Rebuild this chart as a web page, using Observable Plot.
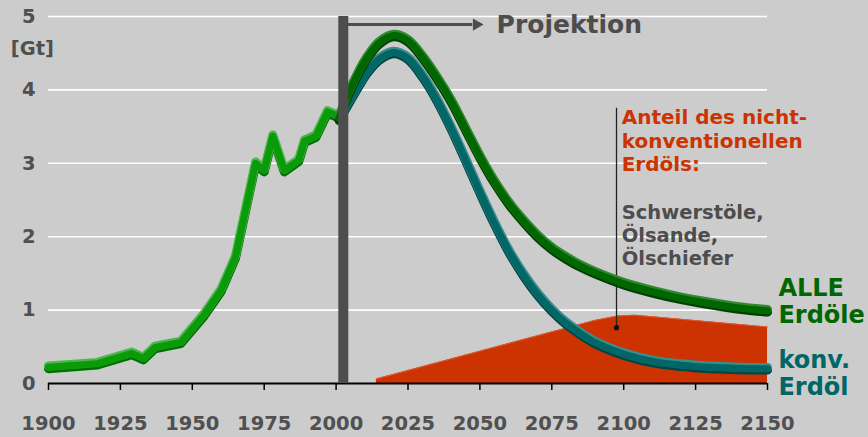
<!DOCTYPE html>
<html><head><meta charset="utf-8">
<script src="https://cdn.jsdelivr.net/npm/d3@7"></script>
<script src="https://cdn.jsdelivr.net/npm/@observablehq/plot@0.6"></script>
<style>
html,body{margin:0;padding:0;background:#cccccc;}
#chart svg{display:block;}
</style></head><body><div id="chart"></div>
<script>
// ---- data (Gt per year) ----
const histYears = [1900,1917,1929,1933,1937,1946,1954,1960,1965,1972,1975,1978,1982,1987,1989,1993,1997,2000];
const histOil   = [0.22,0.27,0.41,0.34,0.49,0.56,0.93,1.27,1.72,3.00,2.90,3.37,2.90,3.04,3.30,3.37,3.70,3.65];

const projYears = [2001,2004,2008,2011,2015,2020,2025,2030,2035,2040,2045,2050,2055,2060,2065,2070,2075,2080,2085,2090,2100,2110,2120,2130,2140,2150];
const allOil    = [3.62,3.92,4.25,4.45,4.64,4.74,4.67,4.45,4.17,3.85,3.47,3.09,2.75,2.46,2.22,2.01,1.84,1.71,1.60,1.51,1.36,1.25,1.16,1.09,1.03,0.99];
const konvOil   = [3.60,3.80,4.07,4.25,4.42,4.51,4.43,4.19,3.87,3.48,3.05,2.61,2.19,1.81,1.49,1.22,1.00,0.82,0.68,0.56,0.40,0.30,0.25,0.22,0.205,0.20];

const nonconvYears = [2014,2050,2090,2098,2104,2150];
const nonconvOil   = [0.06,0.44,0.86,0.92,0.93,0.77];

const xTicks = [1900,1925,1950,1975,2000,2025,2050,2075,2100,2125,2150];
const yTicks = [0,1,2,3,4,5];
const gridValues = [1,2,3,4,5];

const unitLabel = "[Gt]";
const projectionLabel = "Projektion";
const noteTitle = ["Anteil des nicht-","konventionellen","Erdöls:"];
const noteBody = ["Schwerstöle,","Ölsande,","Ölschiefer"];
const allLabel = ["ALLE","Erdöle"];
const konvLabel = ["konv.","Erdöl"];

const projectionStart = 2002.5;

// ---- tables ----
const hist = histYears.map((year,i)=>({year, value: histOil[i]}));
const alle = projYears.map((year,i)=>({year, value: allOil[i]}));
const konv = projYears.map((year,i)=>({year, value: konvOil[i]}));
const nonconv = nonconvYears.map((year,i)=>({year, value: nonconvOil[i]}));

const FONT = "DejaVu Sans";
const GREY = "#505050";

function tube(data, c, curve) {
  const base = {x: "year", y: "value", curve, strokeLinecap: "round", strokeLinejoin: "round"};
  return [
    Plot.line(data, {...base, stroke: c.dark, strokeWidth: 9, dy: 1.3}),
    Plot.line(data, {...base, stroke: c.light, strokeWidth: 9, dy: -1.3}),
    Plot.line(data, {...base, stroke: c.mid, strokeWidth: 7})
  ];
}

const chart = Plot.plot({
  width: 868, height: 437,
  marginLeft: 48, marginRight: 101, marginTop: 16, marginBottom: 54,
  x: {domain: [1900, 2150], label: null},
  y: {domain: [0, 5], label: null},
  style: {background: "#cccccc", fontFamily: FONT, fontWeight: "bold", overflow: "visible"},
  marks: [
    Plot.ruleY(gridValues, {stroke: "white", strokeWidth: 1.6}),
    Plot.areaY(nonconv, {x: "year", y: "value", fill: "#cc3300"}),
    Plot.lineY(nonconv, {x: "year", y: "value", stroke: "#dd5a30", strokeWidth: 1}),
    Plot.axisX({ticks: xTicks, tickFormat: d => String(d), tickSize: 7, tickPadding: 26,
      stroke: "#000", strokeWidth: 1.5, fill: GREY, fontSize: 19.5, fontWeight: "bold", label: null}),
    Plot.ruleY([0], {stroke: "#000", strokeWidth: 2}),
    Plot.axisY({ticks: yTicks, tickFormat: d => String(d), tickSize: 0, tickPadding: 13, fill: GREY, fontSize: 19.5, fontWeight: "bold", label: null}),
    Plot.text([unitLabel], {text: d => d, x: 1894.4, y: 4.56, fill: GREY, fontSize: 19.5, fontWeight: "bold", textAnchor: "middle"}),
    // pointer of the note
    Plot.ruleX([2097.5], {y1: 0.76, y2: 3.75, stroke: "#222", strokeWidth: 1.3}),
    Plot.dot([0.76], {x: 2097.5, y: d => d, r: 2.6, fill: "#111"}),
    ...tube(hist, {dark: "#007000", light: "#4cb84c", mid: "#0a9a0a"}, "linear"),
    ...tube(konv, {dark: "#004646", light: "#3a8d8d", mid: "#006666"}, "catmull-rom"),
    ...tube(alle, {dark: "#003f00", light: "#2f8a2f", mid: "#006600"}, "catmull-rom"),
    // projection bar and arrow
    Plot.ruleX([projectionStart], {y1: 0, y2: 5, stroke: "#4d4d4d", strokeWidth: 10}),
    Plot.ruleY([4.89], {x1: 2004.2, x2: 2047.5, stroke: "#4d4d4d", strokeWidth: 3}),
    Plot.dot([4.89], {x: 2048.8, y: d => d, symbol: "triangle", rotate: 90, r: 4.6, fill: "#4d4d4d"}),
    Plot.text([projectionLabel], {text: d => d, x: 2055.8, y: 4.885, fill: "#4d4d4d", fontSize: 25, fontWeight: "bold", textAnchor: "start"}),
    // notes
    Plot.text([noteTitle.join("\n")], {text: d => d, x: 2099.3, y: 3.315, fill: "#cc3300", fontSize: 20, fontWeight: "bold", textAnchor: "start", lineHeight: 1.17}),
    Plot.text([noteBody.join("\n")], {text: d => d, x: 2099.3, y: 2.03, fill: "#4d4d4d", fontSize: 19.5, fontWeight: "bold", textAnchor: "start", lineHeight: 1.18}),
    Plot.text([allLabel.join("\n")], {text: d => d, x: 2153.8, y: 1.13, fill: "#006600", fontSize: 24, fontWeight: "bold", textAnchor: "start", lineHeight: 1.12}),
    Plot.text([konvLabel.join("\n")], {text: d => d, x: 2153.8, y: 0.147, fill: "#006666", fontSize: 24, fontWeight: "bold", textAnchor: "start", lineHeight: 1.14})
  ]
});
document.getElementById("chart").append(chart);
</script></body></html>
